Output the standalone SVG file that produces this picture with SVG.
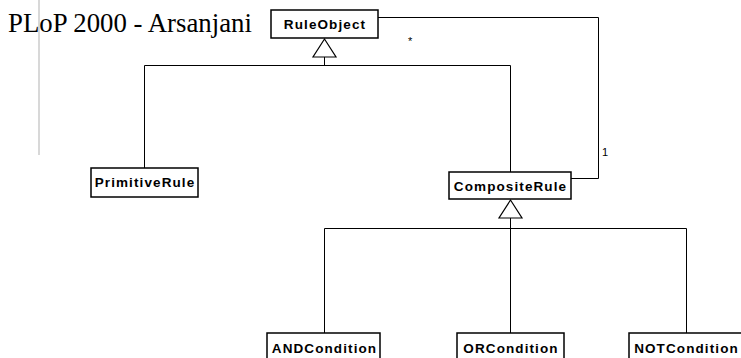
<svg xmlns="http://www.w3.org/2000/svg" width="741" height="358" viewBox="0 0 741 358">
<style>
.box{fill:#fff;stroke:#000;stroke-width:1.5}
.lbl{font-family:"Liberation Sans",Arial,sans-serif;font-weight:bold;font-size:13.5px;letter-spacing:1.1px;text-anchor:middle;fill:#000}
.ln{fill:none;stroke:#000;stroke-width:1}
.tri{fill:#fff;stroke:#000;stroke-width:1.2}
.note{font-family:"Liberation Sans",Arial,sans-serif;font-size:11px;fill:#000}
</style>
<rect width="741" height="358" fill="#fff"/>
<line x1="39" y1="0" x2="39" y2="155" stroke="#d8d8d8" stroke-width="2"/>
<text x="8" y="31.5" font-family="'Liberation Serif','Times New Roman',serif" font-size="26.8" fill="#000">PLoP 2000 - Arsanjani</text>
<g id="connectors">
  <polyline class="ln" points="144.5,168 144.5,65.5 510.5,65.5 510.5,172"/>
  <line class="ln" x1="324.5" y1="57" x2="324.5" y2="65.5"/>
  <polygon class="tri" points="324.5,39 313,57 336,57"/>
  <polyline class="ln" points="378,17.5 598.5,17.5 598.5,178.5 571,178.5"/>
  <text class="note" x="408" y="45">*</text>
  <text class="note" x="602" y="156">1</text>
  <polyline class="ln" points="324.5,333 324.5,228.5 686.5,228.5 686.5,333"/>
  <line class="ln" x1="510.5" y1="218" x2="510.5" y2="333"/>
  <polygon class="tri" points="510.5,200 499,218 522,218"/>
</g>
<g id="RuleObject"><rect class="box" x="271" y="10" width="107" height="28"/><text class="lbl" x="325" y="29">RuleObject</text></g>
<g id="PrimitiveRule"><rect class="box" x="91" y="168" width="107" height="29"/><text class="lbl" x="145" y="187">PrimitiveRule</text></g>
<g id="CompositeRule"><rect class="box" x="449" y="172" width="122" height="27"/><text class="lbl" x="510.5" y="191">CompositeRule</text></g>
<g id="ANDCondition"><rect class="box" x="267" y="333" width="113" height="30"/><text class="lbl" x="324.5" y="352.5">ANDCondition</text></g>
<g id="ORCondition"><rect class="box" x="457" y="333" width="107" height="30"/><text class="lbl" x="511" y="352.5">ORCondition</text></g>
<g id="NOTCondition"><rect class="box" x="629" y="333" width="114" height="30"/><text class="lbl" x="686.5" y="352.5">NOTCondition</text></g>
</svg>
